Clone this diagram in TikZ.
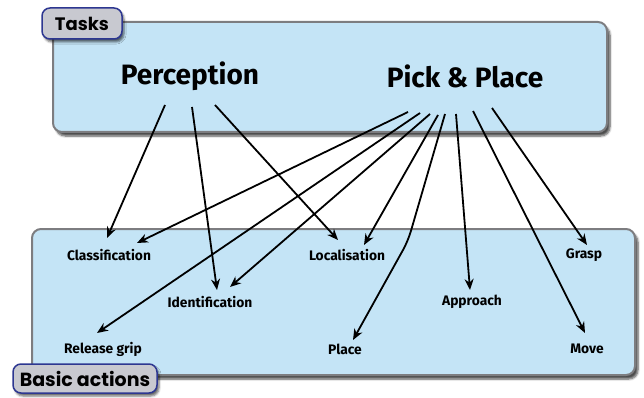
\documentclass[tikz,border=0pt]{standalone}
\usepackage{fontspec}
\setmainfont{Fira Sans}
\newfontfamily\tabfont{Poppins}
\usetikzlibrary{arrows.meta,shadows.blur}

\definecolor{boxblue}{RGB}{196,228,246}
\definecolor{boxrim}{RGB}{125,125,128}
\definecolor{tabgray}{RGB}{200,201,208}
\definecolor{tabrim}{RGB}{45,55,145}

\tikzset{
  panel/.style={draw=boxrim, line width=2pt, fill=boxblue, rounded corners=9pt,
    blur shadow={shadow xshift=3pt, shadow yshift=-4pt, shadow blur steps=6, shadow opacity=70}},
  tab/.style={draw=tabrim, line width=1.5pt, fill=tabgray, rounded corners=8pt,
    inner sep=0pt, font=\tabfont\bfseries,
    blur shadow={shadow xshift=2pt, shadow yshift=-3pt, shadow blur steps=4, shadow opacity=60}},
  task/.style={font=\bfseries\fontsize{28}{31}\selectfont},
  action/.style={font=\bfseries\fontsize{13.8}{16}\selectfont},
  arr/.style={-{Stealth[length=11pt,width=9pt]}, line width=1.8pt},
}

\begin{document}
\begin{tikzpicture}[x=1pt, y=-1pt]
        \useasboundingbox (0,0) rectangle (644,398);

        % the two panels
        \draw[panel] (53,22) rectangle (607,132);
        \draw[panel] (32,229) rectangle (635,375);

        \node[tab, minimum width=80pt, minimum height=31pt,
          font=\tabfont\bfseries\fontsize{18}{20}\selectfont] (tasks) at (82,23.5) {Tasks};
        \node[tab, minimum width=144pt, minimum height=29pt,
          font=\tabfont\bfseries\fontsize{19}{21}\selectfont] (basic) at (85,378.5) {Basic actions};

        \node[task] (perc) at (190,76) {Perception};
        \node[task] (pick) at (465,76) {Pick \& Place};

        \node[action] (cls) at (109,255) {Classification};
        \node[action] (loc) at (347,255) {Localisation};
        \node[action] (grasp) at (584,255) {Grasp};
        \node[action] (ident) at (210,302) {Identification};
        \node[action] (appr) at (472,302) {Approach};
        \node[action] (rel) at (103,349) {Release grip};
        \node[action] (place) at (345,349) {Place};
        \node[action] (move) at (587,349) {Move};

        % perception
        \draw[arr] ([shift={(-25,29)}]perc.center) -- ([shift={(-2,-17)}]cls.center);
        \draw[arr] ([shift={(2,31)}]perc.center) -- ([shift={(7,-12)}]ident.center);
        \draw[arr] ([shift={(25,29)}]perc.center) -- ([shift={(-9,-15)}]loc.center);

        % pick & place
        \draw[arr] ([shift={(-57,36)}]pick.center) -- ([shift={(28,-12)}]cls.center);
        \draw[arr] ([shift={(-45,37)}]pick.center) -- ([shift={(-6,-16)}]rel.center);
        \draw[arr] ([shift={(-35,38)}]pick.center) -- ([shift={(20,-15)}]ident.center);
        \draw[arr] ([shift={(-27,39)}]pick.center) -- ([shift={(17,-10)}]loc.center);
        \draw[arr, rounded corners=10pt] ([shift={(-20,38)}]pick.center)
          -- ([shift={(63,-108)}]place.center) -- ([shift={(8,-9)}]place.center);
        \draw[arr] ([shift={(-9,38)}]pick.center) -- ([shift={(-2,-12)}]appr.center);
        \draw[arr] ([shift={(8,35)}]pick.center) -- ([shift={(-2,-16)}]move.center);
        \draw[arr] ([shift={(27,32)}]pick.center) -- ([shift={(3,-10)}]grasp.center);
    \end{tikzpicture}
\end{document}
